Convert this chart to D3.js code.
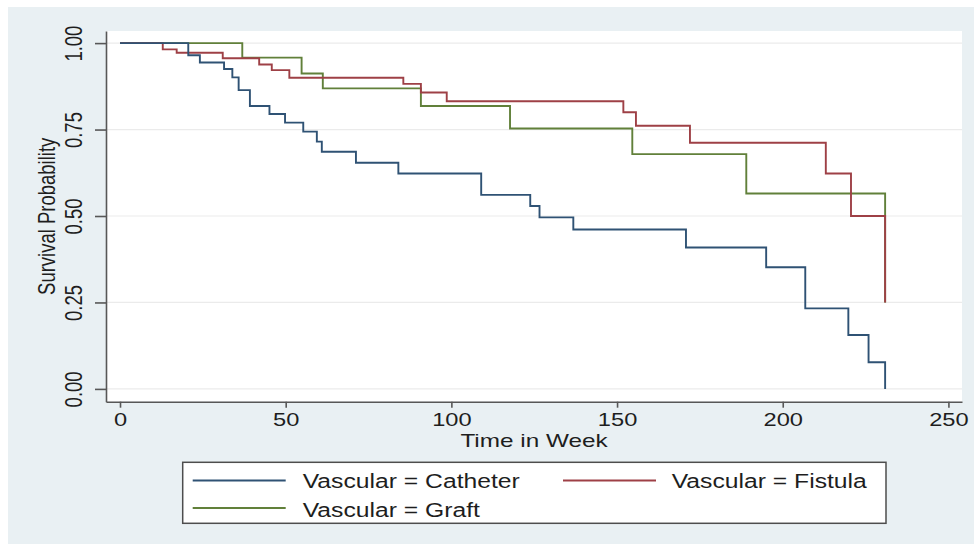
<!DOCTYPE html>
<meta charset='utf-8'>
<body style='margin:0'>
<script src='https://d3js.org/d3.v7.min.js'></script>
<script>
  // Kaplan-Meier steps (time in weeks, survival)
  const catheterTime = [0, 20.6, 24.1, 31.4, 33.9, 35.8, 39.2, 45.1, 49.8, 55.3, 59.4, 60.9, 71.2, 84, 109, 123.8, 126.6, 136.8, 170.8, 195, 206.8, 219.8, 225.9, 230.9];
  const catheterSurv = [1, 0.965, 0.944, 0.925, 0.901, 0.864, 0.818, 0.795, 0.770, 0.744, 0.715, 0.686, 0.654, 0.623, 0.561, 0.529, 0.496, 0.461, 0.409, 0.352, 0.233, 0.156, 0.077, 0];

  const fistulaTime = [0, 12.9, 17.1, 31, 42, 45.8, 51.1, 85.5, 90.8, 98.6, 151.9, 155.7, 172, 213, 220.6, 230.9];
  const fistulaSurv = [1, 0.982, 0.972, 0.956, 0.938, 0.922, 0.900, 0.882, 0.857, 0.832, 0.800, 0.761, 0.712, 0.623, 0.500, 0.25];

  const graftTime = [0, 36.9, 54.8, 61.2, 90.8, 117.7, 154.6, 189, 230.9];
  const graftSurv = [1, 0.958, 0.912, 0.869, 0.818, 0.753, 0.679, 0.565, 0.25];

  const seriesNames = ['Vascular = Catheter', 'Vascular = Fistula', 'Vascular = Graft'];
  const seriesColors = ['#2f5274', '#9e4046', '#61803a'];

  const xTicks = [0, 50, 100, 150, 200, 250];
  const yTicks = [0, 0.25, 0.5, 0.75, 1];

  const W = 974, H = 544;
  const plot = { left: 106, right: 962, top: 31, bottom: 401.7 };
  const SX = 1.28; // picture is stretched sideways, so is its text
  const font = "'Liberation Sans', Arial, sans-serif";
  const ink = '#1e1e1e';

  const svg = d3.select('body').append('svg')
    .attr('width', W)
    .attr('height', H)
    .style('font-family', font)
    .style('display', 'block');

  svg.append('rect').attr('width', W).attr('height', H).attr('fill', '#fff');
  svg.append('rect')
    .attr('x', 8).attr('y', 7)
    .attr('width', W - 8).attr('height', H - 7)
    .attr('fill', '#e9f0f3');

  svg.append('rect')
    .attr('x', plot.left).attr('y', plot.top)
    .attr('width', plot.right - plot.left)
    .attr('height', plot.bottom - plot.top)
    .attr('fill', '#fff');

  const x = d3.scaleLinear()
    .domain([-4.23, 254.1])
    .range([plot.left, plot.right]);

  const y = d3.scaleLinear()
    .domain([-0.037, 1.035])
    .range([plot.bottom, plot.top]);

  // grid
  svg.append('g')
    .selectAll('line')
    .data(yTicks)
    .join('line')
      .attr('x1', plot.left)
      .attr('x2', plot.right)
      .attr('y1', d => y(d))
      .attr('y2', d => y(d))
      .attr('stroke', '#ebebeb')
      .attr('stroke-width', 1.2);

  // curves
  const line = d3.line()
    .x(d => x(d[0]))
    .y(d => y(d[1]))
    .curve(d3.curveStepAfter);

  const series = [
    d3.zip(catheterTime, catheterSurv),
    d3.zip(fistulaTime, fistulaSurv),
    d3.zip(graftTime, graftSurv)
  ];

  // draw graft first so the fistula tail shows on top like the original
  [2, 1, 0].forEach(i => {
    svg.append('path')
      .datum(series[i])
      .attr('d', line)
      .attr('fill', 'none')
      .attr('stroke', seriesColors[i])
      .attr('stroke-width', 1.9);
  });

  // axes
  const xAxis = svg.append('g')
    .attr('transform', `translate(0, ${plot.bottom})`)
    .call(d3.axisBottom(x).tickValues(xTicks).tickSize(6).tickSizeOuter(0).tickPadding(5));

  xAxis.selectAll('text')
    .attr('transform', `scale(${SX},1)`);

  const yAxis = svg.append('g')
    .attr('transform', `translate(${plot.left}, 0)`)
    .call(d3.axisLeft(y).tickValues(yTicks).tickFormat(d3.format('.2f')).tickSize(11).tickSizeOuter(0));

  yAxis.selectAll('text')
    .attr('x', 0)
    .attr('dy', 0)
    .attr('text-anchor', 'middle')
    .attr('transform', `translate(-23.7,0) scale(${SX},1) rotate(-90)`);

  svg.selectAll('.domain, .tick line')
    .attr('stroke', '#575757')
    .attr('stroke-width', 1.6);

  svg.selectAll('.tick text')
    .attr('fill', ink)
    .style('font-size', '18.5px')
    .style('font-family', font);

  // axis titles
  svg.append('text')
    .attr('transform', `translate(${(plot.left + plot.right) / 2}, 446.7) scale(${SX},1)`)
    .attr('text-anchor', 'middle')
    .attr('fill', ink)
    .style('font-size', '19px')
    .text('Time in Week');

  svg.append('text')
    .attr('transform', `translate(55, ${(plot.top + plot.bottom) / 2}) scale(${SX},1) rotate(-90)`)
    .attr('text-anchor', 'middle')
    .attr('fill', ink)
    .style('font-size', '18.5px')
    .text('Survival Probability');

  // legend
  const legend = svg.append('g');

  legend.append('rect')
    .attr('x', 182.7).attr('y', 462.3)
    .attr('width', 886 - 182.7).attr('height', 523.3 - 462.3)
    .attr('fill', '#fff')
    .attr('stroke', '#4d4d4d')
    .attr('stroke-width', 1.5);

  const legendPos = [
    { lx: 192.7, tx: 302.7, ly: 480.5, ty: 487.7 },
    { lx: 563, tx: 671.7, ly: 480.5, ty: 487.7 },
    { lx: 192.7, tx: 302.7, ly: 508, ty: 516.7 }
  ];

  seriesNames.forEach((name, i) => {
    const p = legendPos[i];
    legend.append('line')
      .attr('x1', p.lx).attr('x2', p.lx + 93)
      .attr('y1', p.ly).attr('y2', p.ly)
      .attr('stroke', seriesColors[i])
      .attr('stroke-width', 1.8);
    legend.append('text')
      .attr('transform', `translate(${p.tx}, ${p.ty}) scale(${SX},1)`)
      .attr('fill', ink)
      .style('font-size', '19.3px')
      .text(name);
  });
</script>
